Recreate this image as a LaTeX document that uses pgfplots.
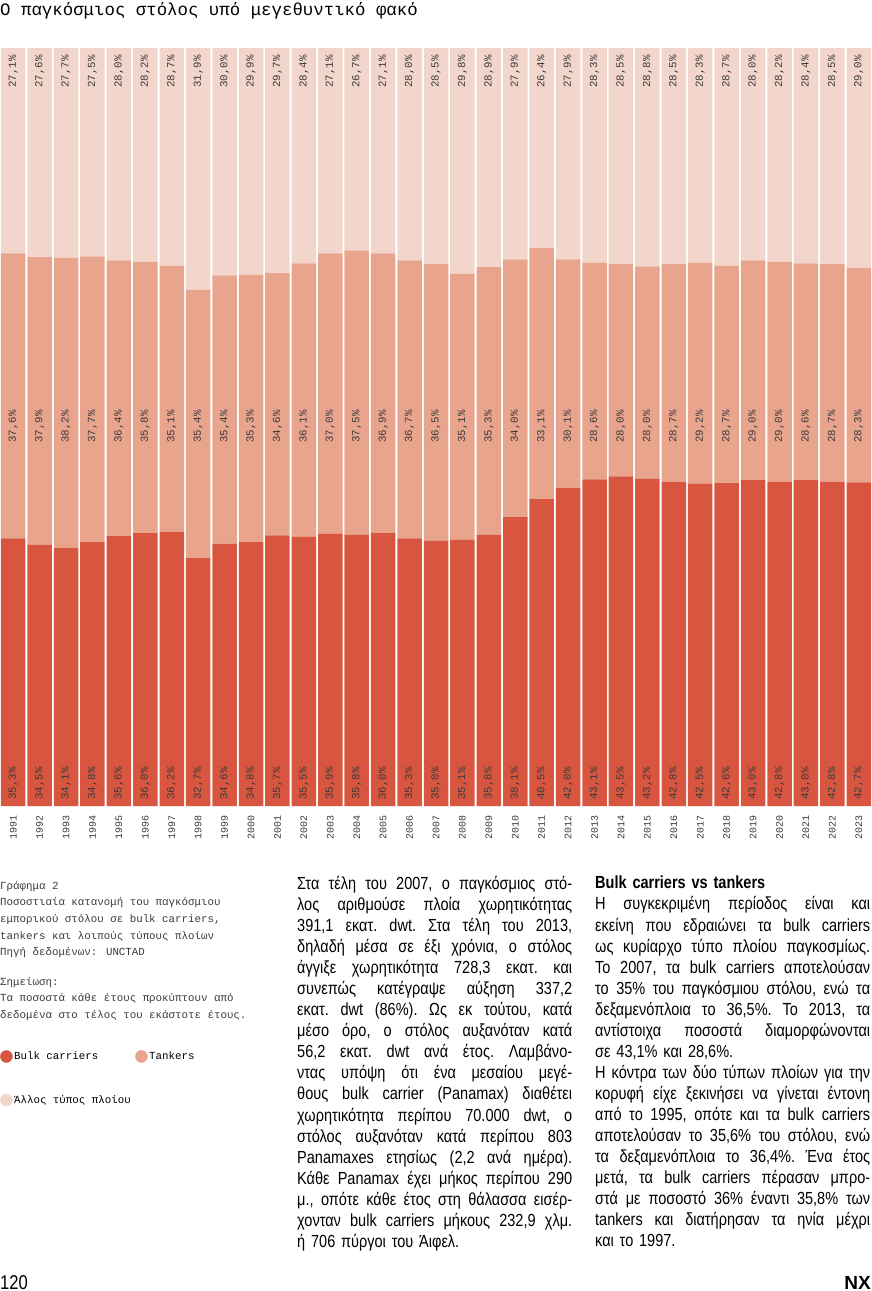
\documentclass[border=0pt]{standalone}
\usepackage{fontspec}
\usepackage{pgfplots}
\usepackage{pgfplotstable}
\pgfplotsset{compat=1.18}
\setmainfont{Liberation Sans}[FakeStretch=0.83]
\newfontfamily\mono{Liberation Mono}
\newfontfamily\nxfont{Liberation Sans}

\definecolor{bulkc}{HTML}{D8563F}
\definecolor{tankc}{HTML}{E9A48E}
\definecolor{othc}{HTML}{F3D6CB}
\definecolor{labc}{HTML}{3A3A3A}

\pgfplotstableread{
year bulk tank other
1991 35.3 37.6 27.1
1992 34.5 37.9 27.6
1993 34.1 38.2 27.7
1994 34.8 37.7 27.5
1995 35.6 36.4 28.0
1996 36.0 35.8 28.2
1997 36.2 35.1 28.7
1998 32.7 35.4 31.9
1999 34.6 35.4 30.0
2000 34.8 35.3 29.9
2001 35.7 34.6 29.7
2002 35.5 36.1 28.4
2003 35.9 37.0 27.1
2004 35.8 37.5 26.7
2005 36.0 36.9 27.1
2006 35.3 36.7 28.0
2007 35.0 36.5 28.5
2008 35.1 35.1 29.8
2009 35.8 35.3 28.9
2010 38.1 34.0 27.9
2011 40.5 33.1 26.4
2012 42.0 30.1 27.9
2013 43.1 28.6 28.3
2014 43.5 28.0 28.5
2015 43.2 28.0 28.8
2016 42.8 28.7 28.5
2017 42.5 29.2 28.3
2018 42.6 28.7 28.7
2019 43.0 29.0 28.0
2020 42.8 29.0 28.2
2021 43.0 28.6 28.4
2022 42.8 28.7 28.5
2023 42.7 28.3 29.0
}\fleet

% one justified line of body text, fixed line breaks as in the print
\newcommand\jline[1]{\makebox[275pt][s]{\frenchspacing\spaceskip=\fontdimen2\font plus 1fil\relax #1}\par}
\newcommand\lline[1]{\makebox[275pt][l]{\frenchspacing #1}\par}

\begin{document}
\begin{tikzpicture}
\path[use as bounding box] (0pt,0pt) rectangle (872pt,-1291pt);

\node[anchor=base west, inner sep=0pt, font=\mono\fontsize{17.4}{20}\selectfont]
  at (0pt,-15pt) {Ο παγκόσμιος στόλος υπό μεγεθυντικό φακό};

\begin{axis}[
  at={(0pt,-806pt)}, anchor=south west,
  scale only axis, width=872pt, height=758pt,
  ybar stacked, bar width=24.5pt,
  xmin=-0.5, xmax=32.5, ymin=0, ymax=100,
  axis line style={draw=none},
  major tick style={draw=none},
  ytick=\empty,
  xtick={0,...,32},
  xticklabels from table={\fleet}{year},
  xticklabel style={rotate=90, anchor=east, inner sep=0pt,
    font=\mono\fontsize{10}{12}\selectfont, text=labc},
  xticklabel shift=9pt,
  /pgf/number format/.cd, fixed, fixed zerofill, precision=1, use comma,
    assume math mode=true,
  /pgfplots/.cd,
  every node near coord/.append style={rotate=90, inner sep=0pt,
    font=\mono\fontsize{10.8}{12}\selectfont, text=labc},
  legend columns=2,
  legend cell align=left,
  legend style={at={(axis description cs:0,-0.322)}, anchor=north west,
    draw=none, fill=none, inner sep=0pt, row sep=31pt,
    font=\mono\fontsize{10.8}{13}\selectfont,
    nodes={inner sep=1.5pt},
    /tikz/every even column/.style={column sep=3pt}},
]
% legend first, so that the bars take no entry
\addlegendimage{legend image code/.code={\fill[bulkc] (6pt,0pt) circle (6pt);}}
\addlegendentry{Bulk carriers}
\addlegendimage{legend image code/.code={\fill[tankc] (6pt,0pt) circle (6pt);}}
\addlegendentry{Tankers}
\addlegendimage{legend image code/.code={\fill[othc] (6pt,0pt) circle (6pt);}}
\addlegendentry{Άλλος τύπος πλοίου}

% labels sit at the middle of each segment; after rotate=90, xshift moves them up
\addplot[fill=bulkc, draw=none,
  nodes near coords={\pgfmathprintnumber{\pgfplotspointmeta}\%},
  visualization depends on=rawy \as \vb,
  nodes near coords style={anchor=west, xshift={6pt-3.79pt*\vb}}]
  table[x expr=\coordindex, y=bulk, meta=bulk] {\fleet};
\addplot[fill=tankc, draw=none,
  nodes near coords={\pgfmathprintnumber{\pgfplotspointmeta}\%},
  visualization depends on=y \as \vtop,
  visualization depends on=rawy \as \vt,
  nodes near coords style={anchor=west, xshift={363.1pt-7.58pt*\vtop+3.79pt*\vt}}]
  table[x expr=\coordindex, y=tank, meta=tank] {\fleet};
\addplot[fill=othc, draw=none,
  nodes near coords={\pgfmathprintnumber{\pgfplotspointmeta}\%},
  visualization depends on=rawy \as \vo,
  nodes near coords style={anchor=east, xshift={3.79pt*\vo-7pt}}]
  table[x expr=\coordindex, y=other, meta=other] {\fleet};
\end{axis}

% caption column
\node[anchor=north west, inner sep=0pt, align=left, text=labc,
  font=\mono\fontsize{10.8}{16.6}\selectfont] at (0pt,-881pt) {%
Γράφημα 2\\
Ποσοστιαία κατανομή του παγκόσμιου\\
εμπορικού στόλου σε bulk carriers,\\
tankers και λοιπούς τύπους πλοίων\\
Πηγή δεδομένων: UNCTAD\\[13pt]
Σημείωση:\\
Τα ποσοστά κάθε έτους προκύπτουν από\\
δεδομένα στο τέλος του εκάστοτε έτους.};

% body text, column 2
\node[anchor=north west, inner sep=0pt, text width=275pt,
  font=\fontsize{17.5}{21.06}\selectfont] at (297pt,-876pt) {%
\jline{Στα τέλη του 2007, ο παγκόσμιος στό-}
\jline{λος αριθμούσε πλοία χωρητικότητας}
\jline{391,1 εκατ. dwt. Στα τέλη του 2013,}
\jline{δηλαδή μέσα σε έξι χρόνια, ο στόλος}
\jline{άγγιξε χωρητικότητα 728,3 εκατ. και}
\jline{συνεπώς κατέγραψε αύξηση 337,2}
\jline{εκατ. dwt (86\%). Ως εκ τούτου, κατά}
\jline{μέσο όρο, ο στόλος αυξανόταν κατά}
\jline{56,2 εκατ. dwt ανά έτος. Λαμβάνο-}
\jline{ντας υπόψη ότι ένα μεσαίου μεγέ-}
\jline{θους bulk carrier (Panamax) διαθέτει}
\jline{χωρητικότητα περίπου 70.000 dwt, ο}
\jline{στόλος αυξανόταν κατά περίπου 803}
\jline{Panamaxes ετησίως (2,2 ανά ημέρα).}
\jline{Κάθε Panamax έχει μήκος περίπου 290}
\jline{μ., οπότε κάθε έτος στη θάλασσα εισέρ-}
\jline{χονταν bulk carriers μήκους 232,9 χλμ.}
\lline{ή 706 πύργοι του Άιφελ.}};

% body text, column 3
\node[anchor=north west, inner sep=0pt, text width=275pt,
  font=\fontsize{17.5}{21.06}\selectfont] at (595pt,-876pt) {%
\lline{\textbf{Bulk carriers vs tankers}}
\jline{Η συγκεκριμένη περίοδος είναι και}
\jline{εκείνη που εδραιώνει τα bulk carriers}
\jline{ως κυρίαρχο τύπο πλοίου παγκοσμίως.}
\jline{Το 2007, τα bulk carriers αποτελούσαν}
\jline{το 35\% του παγκόσμιου στόλου, ενώ τα}
\jline{δεξαμενόπλοια το 36,5\%. Το 2013, τα}
\jline{αντίστοιχα ποσοστά διαμορφώνονται}
\lline{σε 43,1\% και 28,6\%.}
\jline{Η κόντρα των δύο τύπων πλοίων για την}
\jline{κορυφή είχε ξεκινήσει να γίνεται έντονη}
\jline{από το 1995, οπότε και τα bulk carriers}
\jline{αποτελούσαν το 35,6\% του στόλου, ενώ}
\jline{τα δεξαμενόπλοια το 36,4\%. Ένα έτος}
\jline{μετά, τα bulk carriers πέρασαν μπρο-}
\jline{στά με ποσοστό 36\% έναντι 35,8\% των}
\jline{tankers και διατήρησαν τα ηνία μέχρι}
\lline{και το 1997.}};

% page footer
\node[anchor=base west, inner sep=0pt, font=\fontsize{20}{22}\selectfont]
  at (0pt,-1289pt) {120};
\node[anchor=base east, inner sep=0pt, font=\nxfont\bfseries\fontsize{19}{22}\selectfont]
  at (871pt,-1289pt) {NX};
\end{tikzpicture}
\end{document}
